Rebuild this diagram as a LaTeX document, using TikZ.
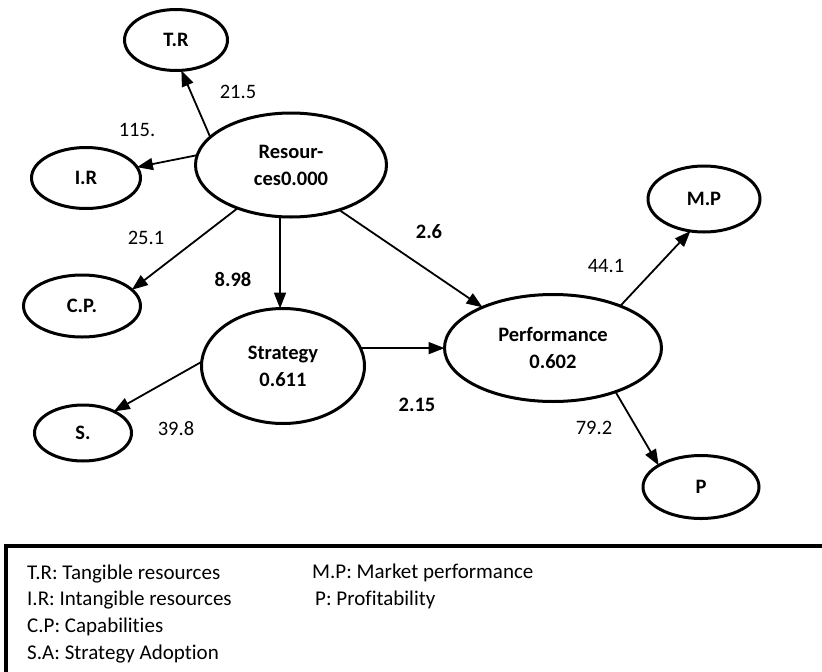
\documentclass[tikz,border=0pt]{standalone}
\usepackage{fontspec}
\setmainfont[Ligatures=NoCommon]{Carlito}
\usetikzlibrary{shapes.geometric,arrows.meta}

\begin{document}
\begin{tikzpicture}[x=1pt,y=-1pt,
    construct/.style={draw, ellipse, line width=3pt, inner sep=0pt, outer sep=0pt,
        align=center, font=\fontsize{20.5}{27}\selectfont\bfseries},
    pathline/.style={line width=1.8pt, -{Triangle[length=16pt,width=12pt]}},
    coef/.style={font=\fontsize{20.5}{24}\selectfont},
    coefb/.style={font=\fontsize{20.5}{24}\selectfont\bfseries},
    legend/.style={anchor=west, inner sep=0pt, font=\fontsize{21}{26}\selectfont}]
    \useasboundingbox (0,0) rectangle (822,672);

    % Constructs
    \node[construct, minimum width=103pt, minimum height=61pt] (tr) at (176,40) {T.R};
    \node[construct, minimum width=109pt, minimum height=61pt] (ir) at (86,178) {I.R};
    \node[construct, minimum width=117pt, minimum height=62pt] (cp) at (82,306) {C.P.};
    \node[construct, minimum width=97pt, minimum height=56pt] (sa) at (83,433) {S.};
    \node[construct, minimum width=191pt, minimum height=104pt] (res) at (291,165) {Resour-\\ces0.000};
    \node[construct, minimum width=163pt, minimum height=115pt] (strat) at (283,366) {Strategy\\0.611};
    \node[construct, minimum width=217pt, minimum height=107pt] (perf) at (553,348) {Performance\\0.602};
    \node[construct, minimum width=112pt, minimum height=66pt] (mp) at (704,199) {M.P};
    \node[construct, minimum width=116pt, minimum height=63pt] (prof) at (701,487) {P};

    % Paths
    \draw[pathline] (res.161) -- (tr.280);
    \draw[pathline] (res.174) -- (ir.12);
    \draw[pathline] (res.219) -- (cp.18);
    \draw[pathline] (res.258) -- (res.258 |- strat.north);
    \draw[pathline] (res.317) -- (perf.150);
    \draw[pathline] (strat.13) -- (strat.13 -| perf.west);
    \draw[pathline] (strat.177) -- (sa.35);
    \draw[pathline] (perf.32) -- (mp.247);
    \draw[pathline] (perf.325) -- (prof.153);

    % Coefficients
    \node[coef] (c1) at (238,92) {21.5};
    \node[coef] (c2) at (137,130) {115.};
    \node[coef] (c3) at (146,238) {25.1};
    \node[coefb] (c4) at (233,279) {8.98};
    \node[coefb] (c5) at (429,232) {2.6};
    \node[coefb] (c6) at (417,405) {2.15};
    \node[coef] (c7) at (176,429) {39.8};
    \node[coef] (c8) at (606,266) {44.1};
    \node[coef] (c9) at (594,428) {79.2};

    % Legend
    \draw[line width=3.2pt] (6,672) -- (6,546) -- (822,546);
    \foreach \txt [count=\i] in {T.R: Tangible resources, I.R: Intangible resources,
        C.P: Capabilities, S.A: Strategy Adoption} {
        \node[legend] (leg\i) at (27,547+26.7*\i) {\txt};
    }
    \node[legend] (legmp) at (312,573) {M.P: Market performance};
    \node[legend] (legp) at (315,600) {P: Profitability};
\end{tikzpicture}
\end{document}
